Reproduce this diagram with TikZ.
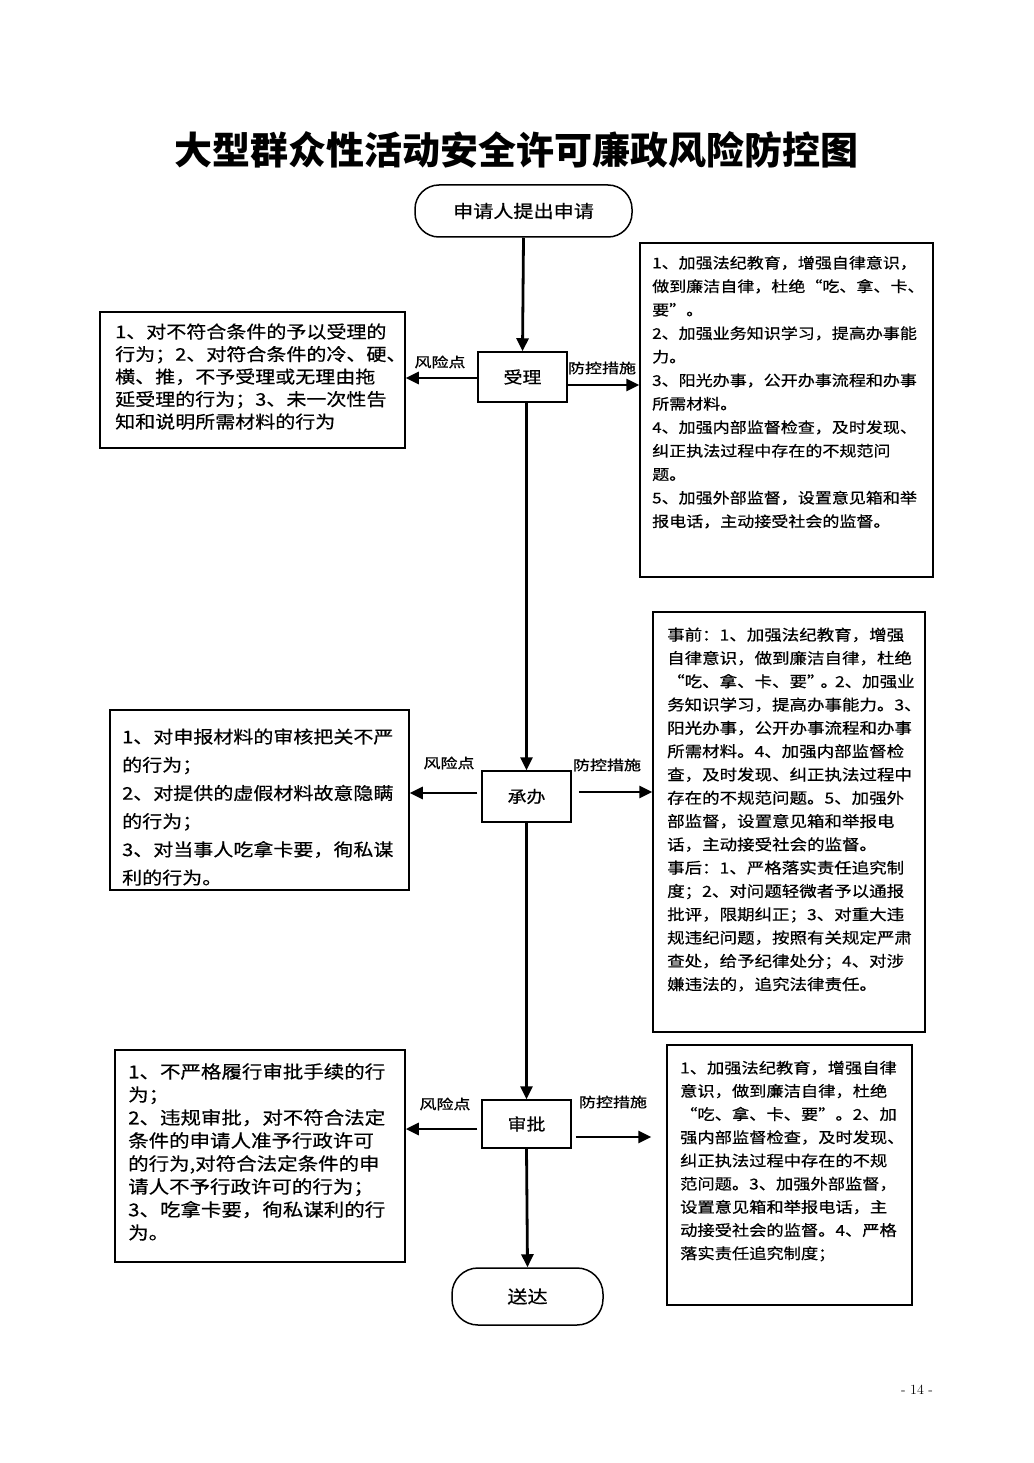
\documentclass[tikz,border=0pt]{standalone}
\usepackage{fontspec}
\newfontfamily\cjk[FakeStretch=1.15,FakeBold=0.5]{Noto Sans CJK SC}
\newfontfamily\cjklab[FakeStretch=1.25,FakeBold=0.8]{Noto Sans CJK SC}
\newfontfamily\cjktitle{Noto Sans CJK SC}
\usetikzlibrary{arrows.meta,calc}
\begin{document}
\begin{tikzpicture}[x=1pt,y=-1pt,
  arr/.style={line width=2.8pt,-{Triangle[length=13pt,width=12pt]}},
  proc/.style={draw,line width=1.5pt,minimum width=89pt,inner sep=0pt,font=\cjk\fontsize{16.5}{20}\selectfont},
  term/.style={draw,line width=1.5pt,rounded corners=24pt,inner sep=0pt,font=\cjk\fontsize{17.5}{20}\selectfont},
  infobox/.style={draw,line width=1.5pt,inner sep=0pt},
  txt/.style={align=left,inner sep=0pt,anchor=north west},
  lab/.style={inner sep=0pt,font=\cjklab\fontsize{13.6}{16}\selectfont}]
\useasboundingbox[fill=white] (0,0) rectangle (1033,1463);

% title
\node[inner sep=0pt,font=\cjktitle\bfseries\fontsize{38}{40}\selectfont] (title) at (516,150) {大型群众性活动安全许可廉政风险防控图};

% flow nodes
\node[term,minimum width=217pt,minimum height=52pt] (start) at (523.5,211) {申请人提出申请};
\node[proc,minimum height=50pt] (shouli) at (522.5,377) {受理};
\node[proc,minimum height=51pt] (chengban) at (526.5,796.5) {承办};
\node[proc,minimum height=48pt] (shenpi) at (526.5,1124) {审批};
\node[term,minimum width=151pt,minimum height=57pt,rounded corners=26pt] (songda) at (527.5,1296.5) {送达};

% info boxes
\node[infobox,minimum width=305pt,minimum height=136pt] (lb1) at (252.5,380) {};
\node[infobox,minimum width=293pt,minimum height=334pt] (rb1) at (786.5,410) {};
\node[infobox,minimum width=299pt,minimum height=180pt] (lb2) at (259.5,800) {};
\node[infobox,minimum width=272pt,minimum height=420pt] (rb2) at (789,822) {};
\node[infobox,minimum width=290pt,minimum height=212pt] (lb3) at (260,1156) {};
\node[infobox,minimum width=245pt,minimum height=260pt] (rb3) at (789.5,1175) {};

% texts
\node[txt,font=\cjk\fontsize{17.4}{22.5}\selectfont] (lb1t) at (115,323.3) {1、对不符合条件的予以受理的\\行为；2、对符合条件的冷、硬、\\横、推，不予受理或无理由拖\\延受理的行为；3、未一次性告\\知和说明所需材料的行为};

\node[txt,font=\cjk\fontsize{14.8}{23.5}\selectfont] (rb1t) at (652,255.6) {1、加强法纪教育，增强自律意识，\\做到廉洁自律，杜绝“吃、拿、卡、\\要”。\\2、加强业务知识学习，提高办事能\\力。\\3、阳光办事，公开办事流程和办事\\所需材料。\\4、加强内部监督检查，及时发现、\\纠正执法过程中存在的不规范问\\题。\\5、加强外部监督，设置意见箱和举\\报电话，主动接受社会的监督。};

\node[txt,font=\cjk\fontsize{15.2}{23.3}\selectfont] (rb2t) at (667,627.4) {事前：1、加强法纪教育，增强\\自律意识，做到廉洁自律，杜绝\\“吃、拿、卡、要”\kern-4pt。\kern-3pt 2、加强业\\务知识学习，提高办事能力。3、\\阳光办事，公开办事流程和办事\\所需材料。4、加强内部监督检\\查，及时发现、纠正执法过程中\\存在的不规范问题。5、加强外\\部监督，设置意见箱和举报电\\话，主动接受社会的监督。\\事后：1、严格落实责任追究制\\度；2、对问题轻微者予以通报\\批评，限期纠正；3、对重大违\\规违纪问题，按照有关规定严肃\\查处，给予纪律处分；4、对涉\\嫌违法的，追究法律责任。};

\node[txt,font=\cjk\fontsize{17.4}{28.2}\selectfont] (lb2t) at (122,728.3) {1、对申报材料的审核把关不严\\的行为；\\2、对提供的虚假材料故意隐瞒\\的行为；\\3、对当事人吃拿卡要，徇私谋\\利的行为。};

\node[txt,font=\cjk\fontsize{17.8}{23}\selectfont] (lb3t) at (128,1063) {1、不严格履行审批手续的行\\为；\\2、违规审批，对不符合法定\\条件的申请人准予行政许可\\的行为,对符合法定条件的申\\请人不予行政许可的行为；\\3、吃拿卡要，徇私谋利的行\\为。};

\node[txt,font=\cjk\fontsize{15}{23.2}\selectfont] (rb3t) at (680,1060.5) {1、加强法纪教育，增强自律\\意识，做到廉洁自律，杜绝\\“吃、拿、卡、要”。2、加\\强内部监督检查，及时发现、\\纠正执法过程中存在的不规\\范问题。3、加强外部监督，\\设置意见箱和举报电话，主\\动接受社会的监督。4、严格\\落实责任追究制度；};

% trunk
\draw[arr] (start.south) -- (shouli.north);
\draw[arr] (shouli.south -| chengban.north) -- (chengban.north);
\draw[arr] (chengban.south) -- (shenpi.north);
\draw[arr] (shenpi.south) -- (songda.north);

% side arrows
\draw[arr] ($(shouli.west)+(0,1)$) -- ($(shouli.west -| lb1.east)+(0,1)$);
\draw[arr] ($(shouli.east)+(0,8)$) -- ($(shouli.east -| rb1.west)+(0,8)$);
\draw[arr] ($(chengban.west)+(-4,-3.5)$) -- ($(chengban.west -| lb2.east)+(0,-3.5)$);
\draw[arr] ($(chengban.east)+(7,-4.5)$) -- ($(chengban.east -| rb2.west)+(0,-4.5)$);
\coordinate (rb3tip) at ($(rb3.west |- shenpi.east)+(-15,13)$);
\draw[arr] ($(shenpi.west)+(-4,5)$) -- ($(shenpi.west -| lb3.east)+(0,5)$);
\draw[arr] ($(shenpi.east)+(4,13)$) -- (rb3tip);

% labels
\node[lab] (l1) at (440,362) {风险点};
\node[lab] (p1) at (602,368) {防控措施};
\node[lab] (l2) at (449,763) {风险点};
\node[lab] (p2) at (607,765) {防控措施};
\node[lab] (l3) at (445,1104) {风险点};
\node[lab] (p3) at (613,1102) {防控措施};

% page number
\node[inner sep=0pt,font=\fontsize{14}{16}\selectfont] (pg) at (917,1390) {- 14 -};
\end{tikzpicture}
\end{document}
